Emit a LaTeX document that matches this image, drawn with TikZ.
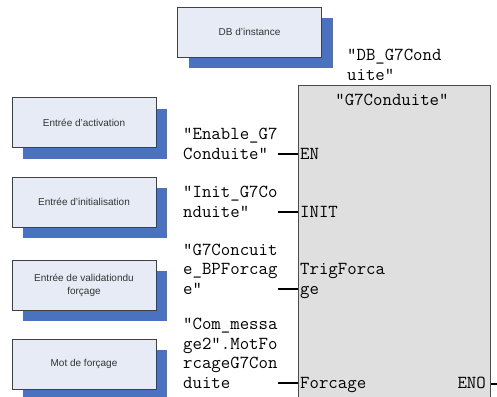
\documentclass[tikz,border=0pt]{standalone}
\usepackage{fontspec}
\setmainfont{Liberation Sans}
\setmonofont{Latin Modern Mono}
\usetikzlibrary{shadows}
\definecolor{boxfill}{HTML}{E6EBF5}
\definecolor{boxshadow}{HTML}{4A72BF}
\definecolor{blockfill}{HTML}{DFDFDF}
\tikzset{
	infobox/.style={draw=black!75, line width=0.8pt, fill=boxfill, minimum width=144pt, minimum height=50pt,
		align=center, text=black!80, font=\fontsize{10}{13}\selectfont,
		general shadow={shadow xshift=11pt, shadow yshift=-11pt, fill=boxshadow, draw=none}},
	tag/.style={font=\ttfamily\fontsize{18.3}{19.5}\selectfont, align=left, inner sep=0pt, anchor=base west},
	pin/.style={line width=1.3pt}
}

\begin{document}
\begin{tikzpicture}[x=1pt,y=-1pt]
		\clip (0,0) rectangle (497,396);
		\fill [white] (0,0) rectangle (497,396);
		% boxes on the left
		\node [infobox] (inst) at (249.5,32) {DB d'instance};
		\node [infobox] (act) at (84,122.5) {Entrée d'activation};
		\node [infobox] (init) at (84,202) {Entrée d'initialisation};
		\node [infobox] (valid) at (84,285) {Entrée de validationdu\\forçage};
		\node [infobox] (mot) at (84,364) {Mot de forçage};
		% function block
		\node [draw=black!70, line width=1pt, fill=blockfill, minimum width=192pt, minimum height=340pt, anchor=north west, inner sep=0pt] (fb) at (298,85) {};
		\node [tag, anchor=base] (title) at (392,105) {"G7Conduite"};
		\node [tag] (dbname) at (347,80) {"DB\_G7Cond\\uite"};
		% parameters (base = last line)
		\node [tag] (enable) at (183,159) {"Enable\_G7\\Conduite"};
		\node [tag] (initvar) at (183,217) {"Init\_G7Co\\nduite"};
		\node [tag] (trigvar) at (183,294) {"G7Concuit\\e\_BPForcag\\e"};
		\node [tag] (motvar) at (183,388) {"Com\_messa\\ge2".MotFo\\rcageG7Con\\duite};
		\node [tag] (en) at (300,159) {EN};
		\node [tag] (initpin) at (300,217) {INIT};
		\node [tag] (trig) at (300,294) {TrigForca\\ge};
		\node [tag] (forc) at (300,388) {Forcage};
		\node [tag, anchor=base east] (eno) at (486,388) {ENO};
		% pins
		\coordinate (a) at (278,154);
		\coordinate (b) at (278,212);
		\coordinate (c) at (278,289);
		\coordinate (d) at (278,383);
		\coordinate (e) at (497,384);
		\draw [pin] (a) -- (fb.west |- a);
		\draw [pin] (b) -- (fb.west |- b);
		\draw [pin] (c) -- (fb.west |- c);
		\draw [pin] (d) -- (fb.west |- d);
		\draw [pin] (fb.east |- e) -- (e);
	\end{tikzpicture}
\end{document}
